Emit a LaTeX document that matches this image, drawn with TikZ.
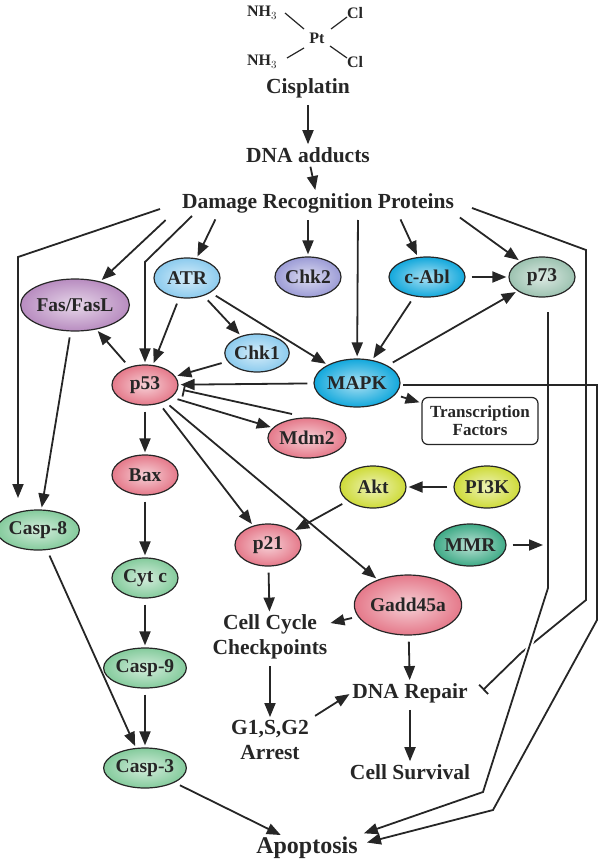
\documentclass[tikz,border=0pt]{standalone}
\usepackage{fontspec}
\setmainfont{Liberation Serif}
\usetikzlibrary{shapes.geometric,arrows.meta,calc}
\definecolor{cpink}{HTML}{E5798A}
\definecolor{cblue}{HTML}{8CCBEE}
\definecolor{clav}{HTML}{9C9CD6}
\definecolor{ccyan}{HTML}{12A8DC}
\definecolor{cgray}{HTML}{9CC2B0}
\definecolor{clil}{HTML}{B88CC0}
\definecolor{cgreen}{HTML}{84CB9C}
\definecolor{cteal}{HTML}{3EAA86}
\definecolor{cyel}{HTML}{CEDB38}
\definecolor{ink}{HTML}{262626}
\begin{document}
\begin{tikzpicture}[x=1pt,y=-1pt,
  every node/.style={font=\bfseries, text=ink},
  el/.style={ellipse, draw=ink, line width=1.2pt, inner sep=0pt, font=\bfseries\fontsize{19.5}{20}\selectfont, inner color=#1!35!white, outer color=#1},
  lab/.style={font=\bfseries\fontsize{21.5}{25}\selectfont, align=center, inner sep=1pt},
  ar/.style={-{Triangle[length=14pt,width=11pt]}, line width=1.8pt, draw=ink, shorten <=6pt, shorten >=2pt},
  ln/.style={line width=1.8pt, draw=ink},
  inh/.style={-{Bar[width=13pt]}, line width=1.8pt, draw=ink},
  chem/.style={font=\bfseries\fontsize{16}{16}\selectfont}]
\useasboundingbox (0,0) rectangle (600,861);
% cisplatin
\node[chem] (n1) at (262,13) {NH$_3$};
\node[chem] (c1) at (355,13) {Cl};
\node[chem] (pt) at (317,38) {Pt};
\node[chem] (n2) at (262,62) {NH$_3$};
\node[chem] (c2) at (355,62) {Cl};
\draw[ln,line width=1.2pt] (285,13)--(304,29) (331,29)--(347,17) (304,48)--(287,58) (330,46)--(347,58);
\node[lab] (cis) at (308,88) {Cisplatin};
\node[lab] (dna) at (308,155) {DNA adducts};
\node[lab] (drp) at (318,203) {Damage Recognition Proteins};
% nodes
\node[el=clil, minimum width=96pt, minimum height=52pt] (fas) at (75,305) {Fas/FasL};
\node[el=cblue, minimum width=66pt, minimum height=40pt] (atr) at (187,278) {ATR};
\node[el=clav, minimum width=66pt, minimum height=40pt] (chk2) at (308,277) {Chk2};
\node[el=ccyan, minimum width=76pt, minimum height=40pt] (cabl) at (427,277) {c-Abl};
\node[el=cgray, minimum width=66pt, minimum height=40pt] (p73) at (542,277) {p73};
\node[el=cblue, minimum width=64pt, minimum height=38pt] (chk1) at (257,353) {Chk1};
\node[el=cpink, minimum width=66pt, minimum height=40pt] (p53) at (145,385) {p53};
\node[el=ccyan, minimum width=86pt, minimum height=48pt] (mapk) at (357,383) {MAPK};
\node[draw=ink, line width=1.2pt, rounded corners=6pt, minimum width=116pt, minimum height=47pt, inner sep=1pt, align=center, font=\bfseries\fontsize{17}{18}\selectfont] (tf) at (480,421) {Transcription\\Factors};
\node[el=cpink, minimum width=76pt, minimum height=40pt] (mdm2) at (307,438) {Mdm2};
\node[el=cpink, minimum width=66pt, minimum height=40pt] (bax) at (145,475) {Bax};
\node[el=cyel, minimum width=66pt, minimum height=42pt] (akt) at (373,487) {Akt};
\node[el=cyel, minimum width=66pt, minimum height=42pt] (pi3k) at (487,487) {PI3K};
\node[el=cgreen, minimum width=76pt, minimum height=40pt] (casp8) at (38,530) {Casp-8};
\node[el=cpink, minimum width=66pt, minimum height=42pt] (p21) at (268,545) {p21};
\node[el=cteal, minimum width=66pt, minimum height=42pt] (mmr) at (470,545) {MMR};
\coordinate (mmre) at (543,545);
\node[el=cgreen, minimum width=66pt, minimum height=40pt] (cytc) at (145,578) {Cyt c};
\node[el=cpink, minimum width=96pt, minimum height=60pt] (gadd) at (408,605) {Gadd45a};
\node[el=cgreen, minimum width=74pt, minimum height=40pt] (casp9) at (145,668) {Casp-9};
\node[el=cgreen, minimum width=74pt, minimum height=40pt] (casp3) at (145,768) {Casp-3};
\node[lab] (ccc) at (270,637) {Cell Cycle\\Checkpoints};
\node[lab] (g1) at (270,740) {G1,S,G2\\Arrest};
\node[lab] (rep) at (410,693) {DNA Repair};
\node[lab] (surv) at (410,772) {Cell Survival};
\node[lab,font=\bfseries\fontsize{24}{25}\selectfont] (apo) at (307,848) {Apoptosis};
% coordinates for routed lines
\coordinate (d1) at (160,209); \coordinate (d1a) at (18,257); \coordinate (d1b) at (18,500);
\coordinate (d2) at (192,216); \coordinate (d2a) at (145,262);
\coordinate (d3) at (472,208); \coordinate (d3a) at (586,250); \coordinate (d3b) at (586,600); \coordinate (d3c) at (483,690);
\coordinate (p73a) at (548,312); \coordinate (p73b) at (548,588); \coordinate (p73c) at (483,792); \coordinate (apo1) at (362,834);
\coordinate (m1) at (403,385); \coordinate (m1a) at (597,385); \coordinate (m1b) at (597,620); \coordinate (m1c) at (493,810); \coordinate (apo2) at (365,843);
\coordinate (mdi) at (292,414); \coordinate (p53i) at (183,390);
% connectors
\draw[ar] (cis) -- (dna);
\draw[ar, shorten <=3pt] (dna) -- (drp);
\draw[ar, shorten <=0pt] (d1) -- (d1a) -- (d1b);
\draw[ar] (170,216) -- (fas);
\draw[ar, shorten <=0pt] (d2) -- (d2a) -- (p53);
\draw[ar] (218,214) -- (atr);
\draw[ar] (308,214) -- (chk2);
\draw[ar] (358,214) -- (mapk);
\draw[ar] (398,214) -- (cabl);
\draw[ar] (455,214) -- (p73);
\draw[ar] (cabl) -- (p73);
\draw[ar] (cabl) -- (mapk);
\draw[ar] (mapk) -- (p73);
\draw[ar] (mapk) -- (tf);
\draw[ar] (atr) -- (p53);
\draw[ar] (atr) -- (chk1);
\draw[ar] (atr) -- (mapk);
\draw[ar] (chk1) -- (p53);
\draw[ar] (p53) -- (fas);
\draw[ar] (mapk) -- (p53);
\draw[inh] (mdi) -- (p53i);
\draw[ar] (p53.-25) -- (mdm2);
\draw[ar] (p53) -- (bax);
\draw[ar] (p53) -- (p21);
\draw[ar] (p53) -- (gadd);
\draw[ar] (akt) -- (p21);
\draw[ar] (pi3k) -- (akt);
\draw[ar, shorten >=0pt] (mmr) -- (mmre);
\draw[ar] (fas) -- (casp8);
\draw[ar] (bax) -- (cytc);
\draw[ar] (cytc) -- (casp9);
\draw[ar] (casp9) -- (casp3);
\draw[ar] (casp8) -- (casp3);
\draw[ar] (casp3) -- (apo);
\draw[ar] (p21) -- (ccc);
\draw[ar] (gadd) -- (ccc);
\draw[ar] (ccc) -- (g1);
\draw[ar] (g1.north east) -- (rep.west);
\draw[ar] (gadd) -- (rep);
\draw[ar] (rep) -- (surv);
\draw[ln] (d3) -- (d3a) -- (d3b) -- (521,653);
\draw[inh] (521,653) -- (d3c);
\draw[ln, draw=white, line width=6pt] (p73b) -- ($(p73b)!0.35!(p73c)$);
\draw[ar, shorten <=0pt] (p73a) -- (p73b) -- (p73c) -- (apo1);
\draw[ar, shorten <=0pt] (m1) -- (m1a) -- (m1b) -- (m1c) -- (apo2);
\end{tikzpicture}
\end{document}
